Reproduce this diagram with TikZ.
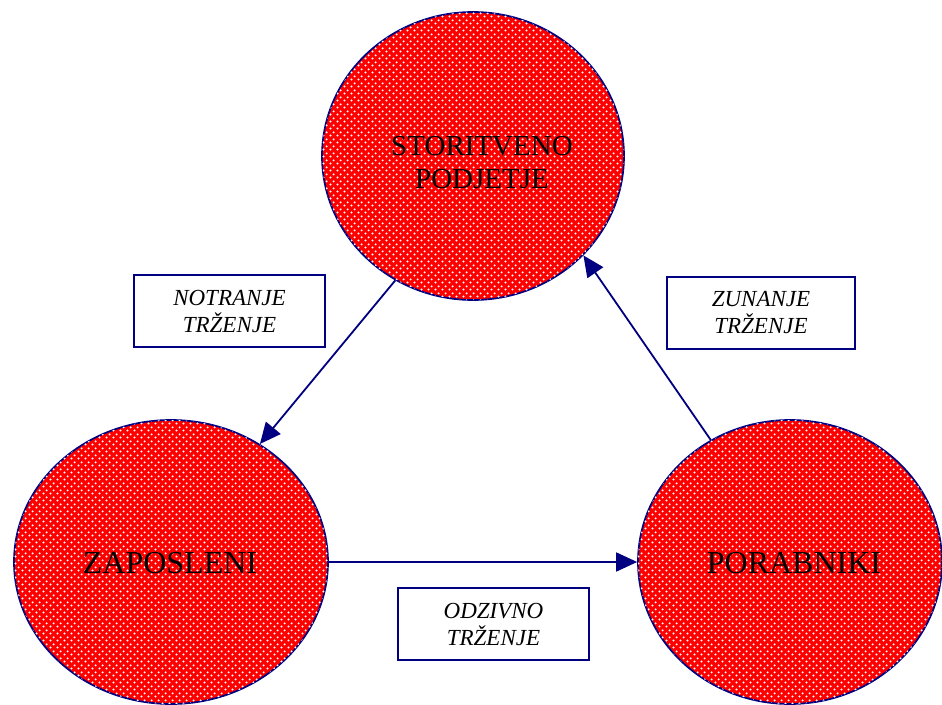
\documentclass[tikz,border=0pt]{standalone}
\usepackage{fontspec}
\setmainfont{Liberation Serif}
\usetikzlibrary{shapes.geometric,arrows.meta,patterns}

\definecolor{navy}{HTML}{000080}
\definecolor{dotred}{HTML}{FF0000}

% staggered grid of small dots laid over the red fill
\pgfdeclarepatternformonly{whitedots}{\pgfpointorigin}{\pgfpoint{7pt}{7pt}}{\pgfpoint{7pt}{7pt}}{%
  \pgfpathcircle{\pgfpoint{1.75pt}{1.75pt}}{1.25pt}%
  \pgfpathcircle{\pgfpoint{5.25pt}{5.25pt}}{1.25pt}%
  \pgfusepath{fill}}

\tikzset{
  party/.style={ellipse, draw=navy, line width=1.7pt, fill=dotred,
    postaction={pattern=whitedots, pattern color=white},
    inner sep=0pt},
  bigtext/.style={align=center, inner sep=0pt, font=\fontsize{29}{33}\selectfont},
  hugetext/.style={align=center, inner sep=0pt, font=\fontsize{32}{36}\selectfont},
  tagbox/.style={draw=navy, line width=1.7pt, fill=white, align=center,
    minimum width=191pt, minimum height=72pt, inner sep=0pt,
    font=\itshape\fontsize{23}{27}\selectfont},
  flow/.style={draw=navy, line width=1.8pt,
    -{Triangle[length=21pt,width=19pt]}, fill=none}
}

\begin{document}
\begin{tikzpicture}[x=1pt,y=-1pt]
  \useasboundingbox (0,0) rectangle (942,704);

  % the three parties
  \node[party, minimum width=302pt, minimum height=288pt] (firm) at (473,156) {};
  \node[party, minimum width=314pt, minimum height=284pt] (staff) at (171,562) {};
  \node[party, minimum width=304pt, minimum height=284pt] (clients) at (790,562) {};

  \node[bigtext] (firmtxt) at (482,163) {STORITVENO\\PODJETJE};
  \node[hugetext] (stafftxt) at (170,563) {ZAPOSLENI};
  \node[hugetext] (clientstxt) at (794,563) {PORABNIKI};

  % marketing relations
  \draw[flow] (firm.238) -- (staff.53);
  \draw[flow] (clients.123) -- (firm.318);
  \draw[flow] (staff.east) -- (clients.west);

  \node[tagbox] (inner) at (229.5,311) {NOTRANJE\\TRŽENJE};
  \node[tagbox, minimum width=188pt] (outer) at (761,313) {ZUNANJE\\TRŽENJE};
  \node[tagbox] (respond) at (493.5,624) {ODZIVNO\\TRŽENJE};
\end{tikzpicture}
\end{document}
